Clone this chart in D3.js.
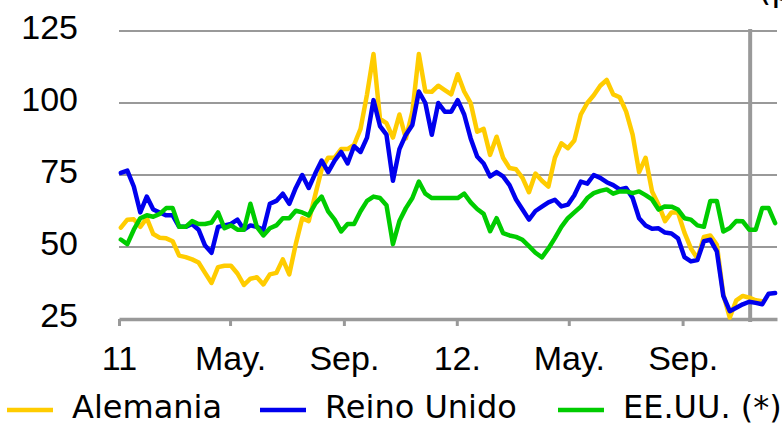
<!DOCTYPE html>
<html>
<head>
<meta charset="utf-8">
<style>
    body { margin: 0; background: #fff; }
    svg { display: block; font-family: "DejaVu Sans", sans-serif; }
    .grid line { stroke: #999; stroke-width: 2px; }
    .line { fill: none; stroke-width: 4.5px; stroke-linejoin: round; stroke-linecap: round; }
</style>
</head>
<body>
<script src="https://cdn.jsdelivr.net/npm/d3@7"></script>
<script>
// weekly readings, first week starting 3 Jan 2011
var startDate = new Date(2011, 0, 3);

var alemania = [56.7, 59.5, 59.6, 57, 60, 54.5, 53.2, 53, 52, 47, 46.5, 45.7, 44.6, 41, 37.5, 43, 43.5, 43.5, 40.8, 36.8, 39, 39.5, 37, 40.5, 41, 45.7,
    40.5, 51, 60, 59, 68, 77, 81, 81, 84, 84, 85.5, 91, 103, 117, 94.5, 93, 88, 96, 87.7, 97, 117, 104, 103.9, 106, 104.5,
    103, 110, 104, 100, 90, 91, 82, 88.3, 81, 77.4, 77, 74, 69, 75.5, 73, 71, 81, 86, 84.3, 87, 96, 100, 102.7, 106, 108,
    103, 102, 97, 89, 76, 81, 69.3, 64.7, 59, 62, 62, 55, 49.5, 46, 53.5, 54, 50.8, 33.5, 25.5, 31.5, 33, 32.4, 31.5, 31.2, null, null];

var reinoUnido = [75.7, 76.5, 71, 62, 67.5, 63, 62, 61, 61, 57, 57, 58, 56, 50.5, 48, 57, 57.5, 58, 59.5, 56, 57.5, 57, 56, 65, 66, 68.5,
    65, 70.5, 75, 70.5, 75.5, 80, 76, 80, 83, 79, 85, 83, 88, 101, 92, 89, 73, 84, 89, 92.4, 104, 100, 89, 100, 97,
    97, 101, 96, 87.7, 81.4, 79, 74.5, 76, 74.5, 71.5, 66.5, 63, 59.5, 62.5, 64, 65.5, 66.4, 64.1, 64.7, 68, 72.7, 72, 75, 74, 72.5,
    71.5, 70, 70.5, 67, 60, 57.5, 56.3, 56.5, 55, 54.7, 53, 46.5, 45, 45.5, 52, 52.5, 48.5, 33, 27.7, 28.9, 30.1, 31, 30.6, 30.1, 33.8, 34];

var eeuu = [52.6, 51, 56, 60, 61, 60.5, 61.5, 63.5, 63.5, 57, 57, 59, 58, 58, 58.5, 62, 56.5, 57.5, 56, 56, 65, 57, 54, 56.5, 57.5, 60,
    60, 62.6, 62, 61, 65, 67.5, 62.4, 59.5, 55.4, 58, 58, 62.4, 66, 67.5, 67, 64.5, 51, 59, 63.5, 67, 72.7, 68.5, 67, 67, 67,
    67, 67, 68.5, 65.5, 63.2, 61.5, 55.5, 60, 54.8, 54, 53.5, 52.5, 50.3, 48, 46.4, 49.5, 53.1, 57, 60, 62, 64, 67, 68.7, 69.5, 70,
    68.5, 69.3, 69.3, 68.7, 69.3, 68, 66.5, 63, 64.1, 64, 63, 60, 59.5, 57.5, 57, 66, 66, 55.4, 56.6, 59, 58.9, 56, 56, 63.5, 63.5, 58.3];

var seriesNames = ["Alemania", "Reino Unido", "EE.UU. (*)"];
var seriesColors = ["#ffcc00", "#0000ee", "#00cc00"];

var yTicks = [25, 50, 75, 100, 125];
var tickDates = [new Date(2011, 0, 1), new Date(2011, 4, 1), new Date(2011, 8, 1),
                 new Date(2012, 0, 1), new Date(2012, 4, 1), new Date(2012, 8, 1)];
var tickLabels = ["11", "May.", "Sep.", "12.", "May.", "Sep."];
var markerDate = new Date(2012, 10, 13);

var margin = { top: 31, right: 5, bottom: 106, left: 119 },
    width = 782 - margin.left - margin.right,
    height = 425 - margin.top - margin.bottom;

var x = d3.scaleTime()
    .domain([new Date(2011, 0, 1), new Date(2012, 11, 12)])
    .range([0, width]);
var y = d3.scaleLinear().domain([25, 125]).range([height, 0]);

var svg = d3.select("body").append("svg")
    .attr("width", 782)
    .attr("height", 425);

// unit label, mostly above the top edge as in the source
svg.append("text")
    .attr("x", 758)
    .attr("y", 1)
    .style("font-size", "34px")
    .text("(pb)");

var g = svg.append("g")
    .attr("transform", "translate(" + margin.left + "," + margin.top + ")");

// horizontal grid
g.append("g")
    .attr("class", "grid")
    .selectAll("line")
    .data(yTicks.slice(1))
    .enter().append("line")
    .attr("x1", 0)
    .attr("x2", width)
    .attr("y1", function (d) { return y(d); })
    .attr("y2", function (d) { return y(d); });

// y labels
var yAxis = g.append("g")
    .call(d3.axisLeft(y).tickValues(yTicks).tickSize(0).tickPadding(41));
yAxis.select(".domain").remove();
yAxis.selectAll("text")
    .attr("dy", "0.22em")
    .style("font-size", "34px")
    .attr("fill", "#000");

// x axis
var xAxis = g.append("g")
    .attr("transform", "translate(0," + height + ")")
    .call(d3.axisBottom(x).tickValues(tickDates).tickSizeInner(7).tickSizeOuter(0).tickPadding(20)
        .tickFormat(function (d, i) { return tickLabels[i]; }));
xAxis.select(".domain").attr("stroke", "#999").attr("stroke-width", 3.5);
xAxis.selectAll(".tick line").attr("stroke", "#999").attr("stroke-width", 3);
xAxis.selectAll("text")
    .style("font-size", "34px")
    .attr("fill", "#000");

// vertical marker
g.append("line")
    .attr("x1", x(markerDate))
    .attr("x2", x(markerDate))
    .attr("y1", -2)
    .attr("y2", height + 3)
    .attr("stroke", "#999")
    .attr("stroke-width", 4);

// lines
var allSeries = [alemania, reinoUnido, eeuu];
var line = d3.line()
    .defined(function (d) { return d != null; })
    .x(function (d, i) { return x(d3.timeDay.offset(startDate, 7 * i)); })
    .y(function (d) { return y(d); });

allSeries.forEach(function (s, i) {
    g.append("path")
        .datum(s)
        .attr("class", "line")
        .attr("d", line)
        .style("stroke", seriesColors[i]);
});

// legend
var legendX = [7, 260, 558];
var legend = svg.selectAll(".legend")
    .data(seriesNames)
    .enter().append("g")
    .attr("class", "legend")
    .attr("transform", function (d, i) { return "translate(" + legendX[i] + ",410)"; });

legend.append("line")
    .attr("x1", 0)
    .attr("x2", 46)
    .attr("stroke-width", 4.5)
    .style("stroke", function (d, i) { return seriesColors[i]; });

legend.append("text")
    .attr("x", 65)
    .attr("y", 8)
    .style("font-size", "32px")
    .text(function (d) { return d; });
</script>
</body>
</html>
